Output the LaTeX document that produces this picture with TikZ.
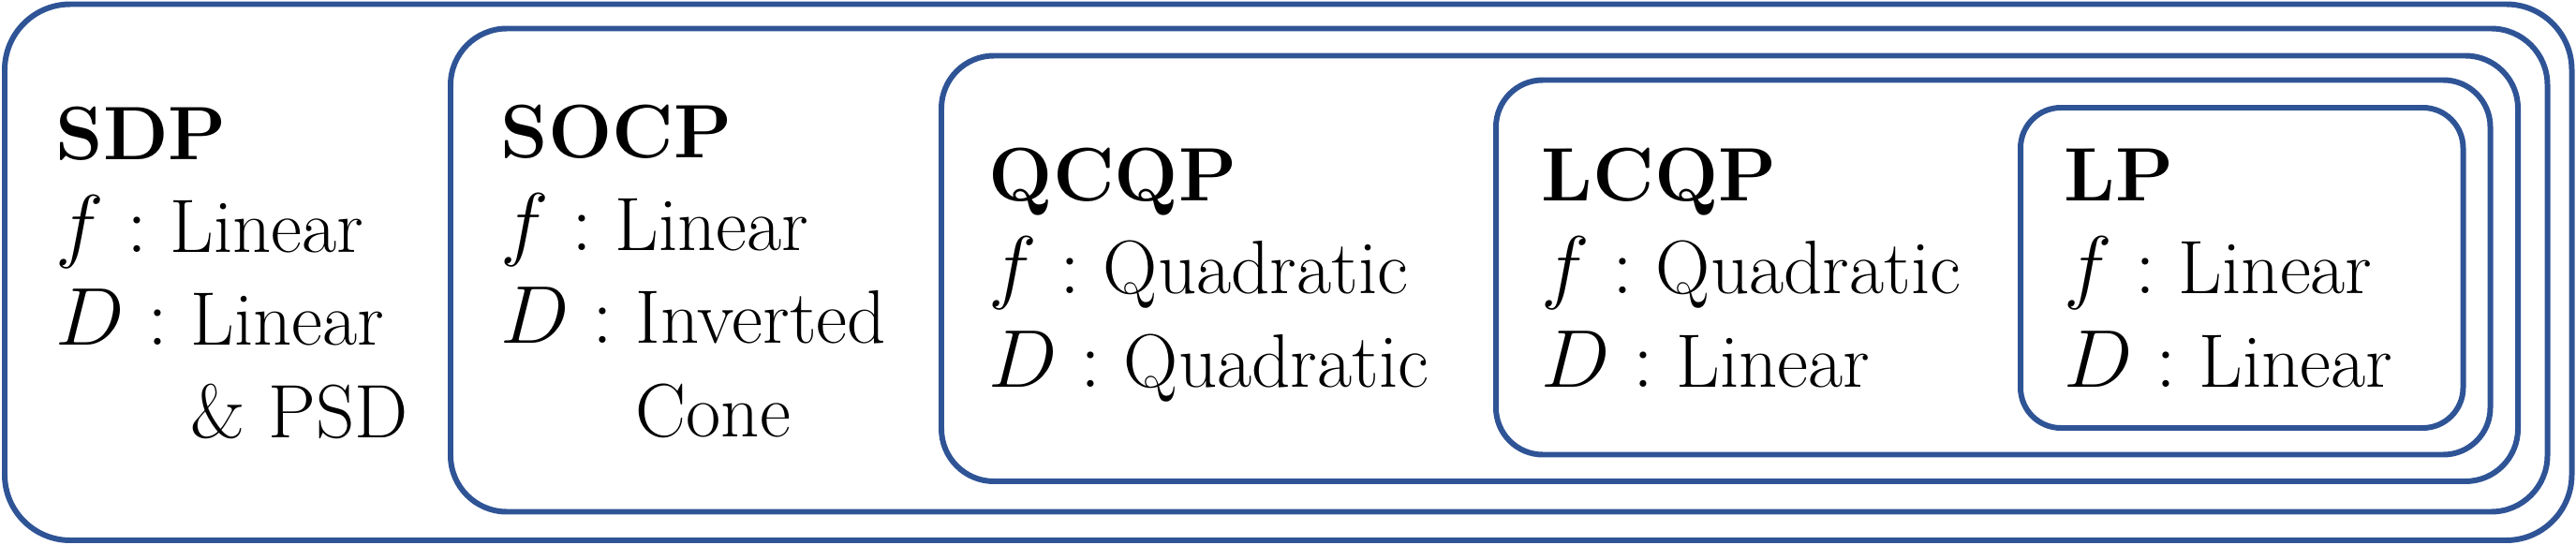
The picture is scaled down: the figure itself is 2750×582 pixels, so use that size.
\documentclass[tikz,border=0pt]{standalone}
\usepackage{amsmath}
\usepackage{tikz}
\definecolor{setblue}{RGB}{47,84,150}

\begin{document}
\begin{tikzpicture}
	[x=0.01cm, y=-0.01cm, inner sep=0pt,
	setbox/.style	= {draw=setblue, line width=1.7pt},
	setlabel/.style	= {anchor=base west, align=left, font=\fontsize{23}{28.2}\selectfont}]
	
	\useasboundingbox (0, 0) rectangle (2750, 582);
	
	\draw [setbox, rounded corners=0.70cm] (5, 4.5) rectangle (2745.5, 577);
	\draw [setbox, rounded corners=0.60cm] (481, 30.5) rectangle (2719.5, 546.5);
	\draw [setbox, rounded corners=0.56cm] (1005, 59.5) rectangle (2688, 514);
	\draw [setbox, rounded corners=0.50cm] (1597, 85.5) rectangle (2658.5, 485.5);
	\draw [setbox, rounded corners=0.43cm] (2157, 115) rectangle (2629.5, 457);
	
	\node at (59, 468)		[setlabel]	(sdp)	{\textbf{SDP}\\ $f:$ Linear\\ $D:$ Linear\\ \hphantom{$D:$} \& PSD};
	\node at (534, 466)		[setlabel]	(socp)	{\textbf{SOCP}\\ $f:$ Linear\\ $D:$ Inverted\\ \hphantom{$D:$} Cone};
	\node at (1055, 413)	[setlabel]	(qcqp)	{\textbf{QCQP}\\ $f:$ Quadratic\\ $D:$ Quadratic};
	\node at (1645, 413)	[setlabel]	(lcqp)	{\textbf{LCQP}\\ $f:$ Quadratic\\ $D:$ Linear};
	\node at (2203, 413)	[setlabel]	(lp)	{\textbf{LP}\\ $f:$ Linear\\ $D:$ Linear};
	
\end{tikzpicture}
\end{document}
